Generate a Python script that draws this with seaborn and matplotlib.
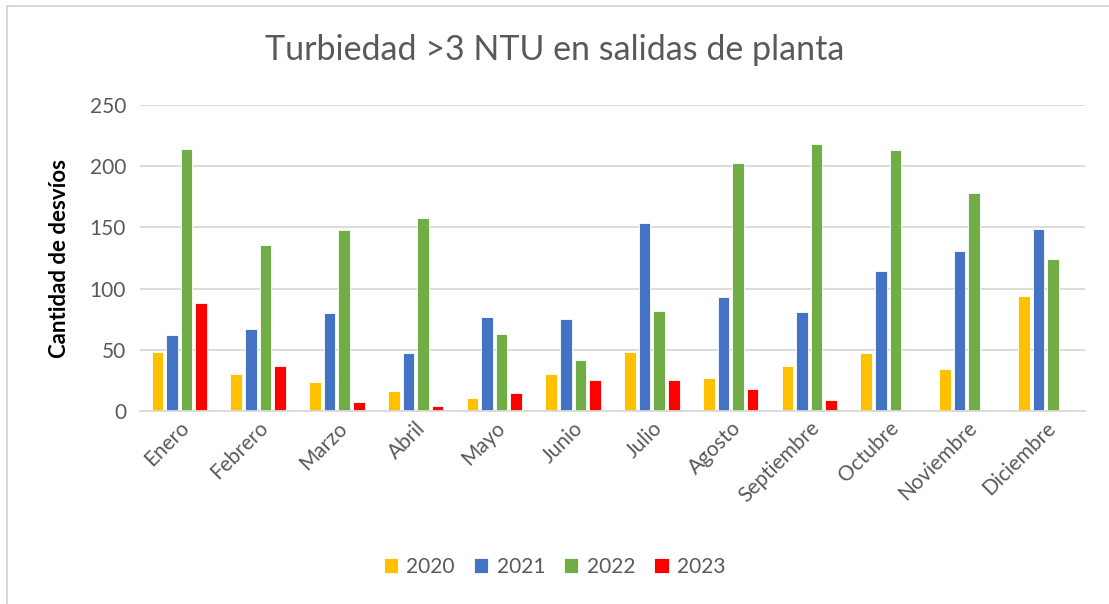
import pandas as pd
import matplotlib.pyplot as plt
import seaborn as sns
from matplotlib.patches import Rectangle

# data
meses = ['Enero', 'Febrero', 'Marzo', 'Abril', 'Mayo', 'Junio', 'Julio',
         'Agosto', 'Septiembre', 'Octubre', 'Noviembre', 'Diciembre']
anios = ['2020', '2021', '2022', '2023']
v2020 = [48, 30, 24, 16, 11, 30, 48, 27, 37, 47, 34, 94]
v2021 = [62, 67, 80, 47, 77, 75, 154, 93, 81, 114, 131, 149]
v2022 = [214, 136, 148, 158, 63, 42, 82, 203, 218, 213, 178, 124]
v2023 = [88, 37, 7, 4, 15, 25, 25, 18, 9, 0, 0, 0]
colores = ['#FFC000', '#4472C4', '#70AD47', '#FF0000']

df = pd.DataFrame({'Mes': meses * 4,
                   'Año': [a for a in anios for _ in meses],
                   'Desvíos': v2020 + v2021 + v2022 + v2023})

sns.set_style('white')
plt.rcParams['font.family'] = ['Lato', 'DejaVu Sans']

fig = plt.figure(figsize=(11.09, 6.04), dpi=100)
ax = fig.add_axes([140 / 1109, 1 - 411 / 604, 945 / 1109, 306 / 604])

sns.barplot(data=df, x='Mes', y='Desvíos', hue='Año', order=meses, hue_order=anios,
            palette=colores, saturation=1, width=0.74, gap=0.2, ax=ax,
            edgecolor='white', linewidth=0.6)

ax.set_ylim(0, 250)
ax.set_xlim(-0.5, 11.5)
ax.set_yticks(range(0, 251, 50))
ax.yaxis.grid(True, color='#D9D9D9', linewidth=1.3)
ax.set_axisbelow(True)
for s in ['top', 'right', 'left']:
    ax.spines[s].set_visible(False)
ax.spines['bottom'].set_color('#D9D9D9')
ax.spines['bottom'].set_linewidth(1.3)
ax.tick_params(axis='both', length=0, labelsize=15, colors='#595959', pad=10)
ax.tick_params(axis='x', pad=5)
plt.setp(ax.get_xticklabels(), rotation=45, ha='right', rotation_mode='anchor')

ax.set_xlabel('')
ax.set_ylabel('Cantidad de desvíos', fontsize=16, fontweight='bold', color='black', labelpad=14)
fig.text(0.5, 1 - 50 / 604, 'Turbiedad >3 NTU en salidas de planta',
         ha='center', va='center', fontsize=24.5, color='#595959')

ax.legend(loc='center', bbox_to_anchor=(0.5, 1 - 567 / 604), bbox_transform=fig.transFigure,
          ncol=4, frameon=False, fontsize=15, handlelength=0.7, handleheight=0.7,
          handletextpad=0.4, columnspacing=0.9, labelcolor='#595959')

# chart area border (only top and left visible)
fig.patches.append(Rectangle((7 / 1109, -0.1), 1.2, 1 - 6 / 604 + 0.1, transform=fig.transFigure,
                             fill=False, edgecolor='#D9D9D9', linewidth=1.5))

fig.savefig('out.png', dpi=100)
